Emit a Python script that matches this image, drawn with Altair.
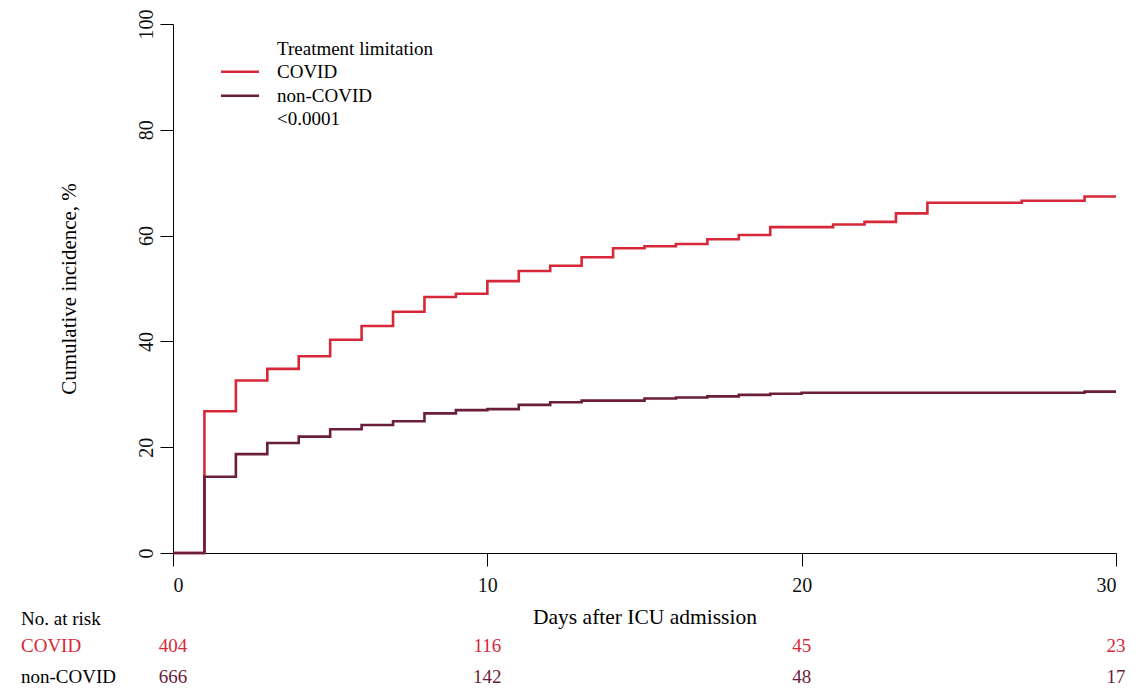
import altair as alt
import pandas as pd

# ---------------- data ----------------
groups = ["COVID", "non-COVID"]
days = list(range(31))
covid_pct = [0, 26.8, 32.6, 34.8, 37.2, 40.3, 42.9, 45.6, 48.4, 49.0, 51.4,
             53.3, 54.3, 55.9, 57.6, 58.0, 58.4, 59.3, 60.1, 61.6, 61.6,
             62.1, 62.6, 64.2, 66.2, 66.2, 66.2, 66.6, 66.6, 67.4, 67.4]
noncovid_pct = [0, 14.4, 18.7, 20.8, 22.0, 23.4, 24.2, 24.9, 26.4, 27.0, 27.2,
                28.0, 28.5, 28.8, 28.8, 29.2, 29.4, 29.6, 29.9, 30.1, 30.3,
                30.3, 30.3, 30.3, 30.3, 30.3, 30.3, 30.3, 30.3, 30.5, 30.5]
risk_days = [0, 10, 20, 30]
risk_covid = [404, 116, 45, 23]
risk_noncovid = [666, 142, 48, 17]
x_ticks = [0, 10, 20, 30]
y_ticks = [0, 20, 40, 60, 80, 100]
legend_title = "Treatment limitation"
p_value_text = "<0.0001"
risk_header = "No. at risk"

# ---------------- styles ----------------
FONT = "'Times New Roman', 'Liberation Serif', Times, 'DejaVu Serif', serif"
RED = "#D62839"
DARK = "#6B1D3C"
colors = {"COVID": RED, "non-COVID": DARK}
W, H = 943, 529

curve_df = pd.concat([
    pd.DataFrame({"day": days, "pct": covid_pct, "group": "COVID"}),
    pd.DataFrame({"day": days, "pct": noncovid_pct, "group": "non-COVID"}),
], ignore_index=True)

risk_values = {"COVID": risk_covid, "non-COVID": risk_noncovid}

xscale = alt.Scale(domain=[0, 30], nice=False, zero=False)
yscale = alt.Scale(domain=[0, 100], nice=False)
cscale = alt.Scale(domain=groups, range=[RED, DARK])

lines = alt.Chart(curve_df).mark_line(interpolate="step-after", strokeWidth=2.6).encode(
    x=alt.X("day:Q", scale=xscale,
            axis=alt.Axis(values=x_ticks, title="Days after ICU admission", format="d",
                          labelBaseline="alphabetic", labelPadding=25,
                          titleBaseline="alphabetic", titleY=70, titleFontSize=21.5)),
    y=alt.Y("pct:Q", scale=yscale,
            axis=alt.Axis(values=y_ticks, title="Cumulative incidence, %", format="d",
                          labelAngle=270, labelAlign="center", labelBaseline="alphabetic",
                          labelPadding=8, titleAngle=270, titleBaseline="alphabetic",
                          titleAlign="center", titleX=-98, titleY=H / 2, titleFontSize=21)),
    color=alt.Color("group:N", scale=cscale, legend=None),
)

layers = [lines]

# number at risk table
row_y = {"COVID": 628, "non-COVID": 659}
for g in groups:
    df = pd.DataFrame({"day": risk_days, "n": risk_values[g]})
    layers.append(
        alt.Chart(df).mark_text(font=FONT, fontSize=19, baseline="alphabetic", align="center").encode(
            x=alt.X("day:Q", scale=xscale),
            y=alt.value(row_y[g]),
            text="n:Q",
            color=alt.value(colors[g]),
        )
    )

one = alt.Data(values=[{"a": 1}])

def label(txt, x, y, color="black", size=19):
    return alt.Chart(one).mark_text(text=txt, font=FONT, fontSize=size, align="left",
                                    baseline="alphabetic", color=color).encode(
        x=alt.value(x), y=alt.value(y))

layers.append(label(risk_header, -152, 601))
layers.append(label("COVID", -152, 628, color=RED))
layers.append(label("non-COVID", -152, 659))

# legend (drawn by hand)
legend_y = {"COVID": 47.7, "non-COVID": 71.7}
for g in groups:
    layers.append(
        alt.Chart(one).mark_rule(strokeWidth=2.6, color=colors[g]).encode(
            x=alt.value(48), x2=alt.value(86), y=alt.value(legend_y[g]))
    )
    layers.append(label(g, 104, legend_y[g] + 6))
layers.append(label(legend_title, 104, 31))
layers.append(label(p_value_text, 104, 101))

chart = alt.layer(*layers).properties(
    width=W, height=H,
    autosize=alt.AutoSizeParams(type="none"),
    padding={"left": 173, "top": 24, "right": 32, "bottom": 137},
    background="white",
).configure_view(stroke=None).configure_axis(
    grid=False, domainColor="black", domainWidth=1, tickColor="black", tickWidth=1,
    tickSize=13, labelFont=FONT, labelFontSize=20, labelColor="#111111",
    titleFont=FONT, titleColor="black", titleFontWeight="normal",
).configure_text(font=FONT)

chart.save("out.html", embed_options={"renderer": "svg", "actions": False})
